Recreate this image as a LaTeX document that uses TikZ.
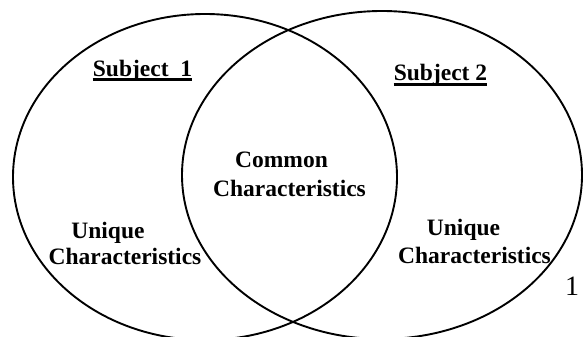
\documentclass[tikz,border=0pt]{standalone}
\usepackage{fontspec}
\setmainfont{Liberation Serif}
\begin{document}
\begin{tikzpicture}[x=1pt,y=-1pt,
  ring/.style={line width=1.9pt},
  lbl/.style={inner sep=0pt, anchor=base, font=\fontsize{23.5}{28}\selectfont\bfseries},
  uline/.style={line width=2.5pt},
  pagenum/.style={inner sep=0pt, anchor=base, font=\fontsize{28}{32}\selectfont}]
\useasboundingbox (0,0) rectangle (586,337);
\draw[ring] (205,177) ellipse [x radius=192pt, y radius=163pt];
\draw[ring] (382,175) ellipse [x radius=200pt, y radius=164pt];
\node[lbl] (s1) at (142.5,76) {Subject\ \ 1};
\node[lbl] (s2) at (440.5,80.5) {Subject 2};
\draw[uline] ([yshift=-3.5pt]s1.base west) -- ([yshift=-3.5pt]s1.base east);
\draw[uline] ([yshift=-4pt]s2.base west) -- ([yshift=-4pt]s2.base east);
\node[lbl] (c1) at (281.5,167.5) {Common};
\node[lbl] (c2) at (289.5,196) {Characteristics};
\node[lbl] (u1) at (108,238) {Unique};
\node[lbl] (u2) at (125,264) {Characteristics};
\node[lbl] (v1) at (463.5,235.5) {Unique};
\node[lbl] (v2) at (474.5,263.5) {Characteristics};
\node[pagenum] (pn) at (572,295) {1};
\end{tikzpicture}
\end{document}
